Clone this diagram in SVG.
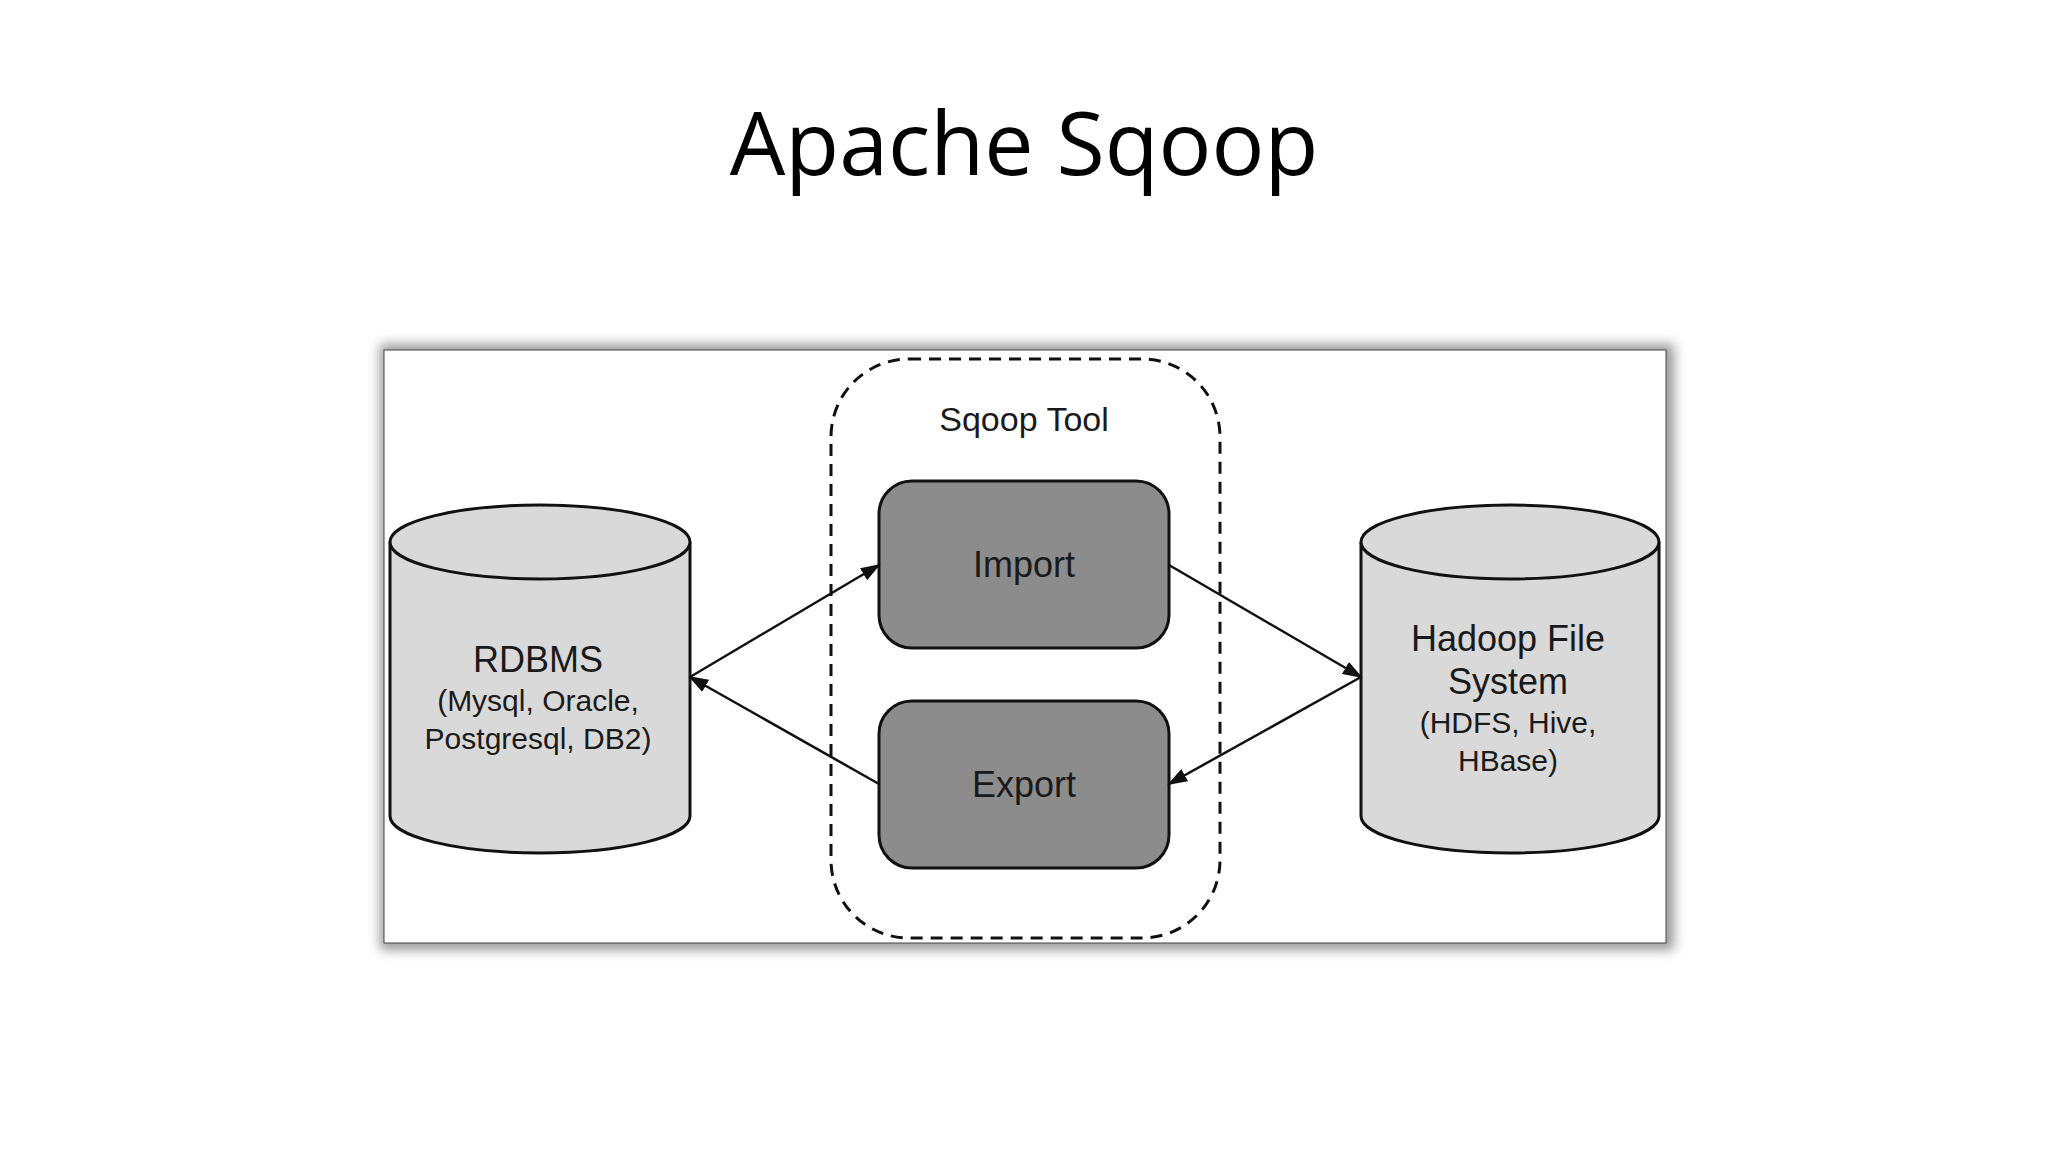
<svg xmlns="http://www.w3.org/2000/svg" width="2048" height="1152" viewBox="0 0 2048 1152">
<defs>
<style>
.t{font-family:"Liberation Sans",Arial,sans-serif;fill:#1a1a1a;text-anchor:middle}
.box{fill:#8c8c8c;stroke:#111;stroke-width:3}
.cyl{fill:#d9d9d9;stroke:#111;stroke-width:3}
.c{stroke:#111;stroke-width:2.5;fill:none;marker-end:url(#ah)}
</style>
<marker id="ah" viewBox="0 0 10 10" refX="9" refY="5" markerWidth="20" markerHeight="14" orient="auto" markerUnits="userSpaceOnUse" preserveAspectRatio="none"><path d="M0,0L10,5L0,10z" fill="#111"/></marker>
<filter id="sh" x="-5%" y="-5%" width="110%" height="115%"><feGaussianBlur stdDeviation="6"/></filter>
</defs>
<rect width="2048" height="1152" fill="#fff"/>
<text x="1024" y="175" font-family="Open Sans,Lato,sans-serif" font-size="88" text-anchor="middle" fill="#000">Apache Sqoop</text>
<rect x="380" y="344" width="1294" height="606" fill="#999" filter="url(#sh)"/>
<rect x="384" y="350" width="1282" height="593" fill="#fff" stroke="#444" stroke-width="1"/>
<g id="sqoop-tool">
<rect x="831" y="359" width="389" height="579" rx="78" fill="none" stroke="#111" stroke-width="3" stroke-dasharray="12,8"/>
<text class="t" x="1024" y="431" font-size="34">Sqoop Tool</text>
</g>
<g id="import"><rect class="box" x="879" y="481" width="290" height="167" rx="33"/><text class="t" x="1024" y="577" font-size="36">Import</text></g>
<g id="export"><rect class="box" x="879" y="701" width="290" height="167" rx="33"/><text class="t" x="1024" y="797" font-size="36">Export</text></g>
<g id="rdbms">
<path class="cyl" d="M390,542V816A150,37 0 0 0 690,816V542"/>
<ellipse class="cyl" cx="540" cy="542" rx="150" ry="37"/>
<text class="t" x="538" y="672" font-size="36">RDBMS</text>
<text class="t" x="538" y="711" font-size="30">(Mysql, Oracle,</text>
<text class="t" x="538" y="749" font-size="30">Postgresql, DB2)</text>
</g>
<g id="hdfs">
<path class="cyl" d="M1361,542V816A149,37 0 0 0 1659,816V542"/>
<ellipse class="cyl" cx="1510" cy="542" rx="149" ry="37"/>
<text class="t" x="1508" y="651" font-size="36">Hadoop File</text>
<text class="t" x="1508" y="694" font-size="36">System</text>
<text class="t" x="1508" y="733" font-size="30">(HDFS, Hive,</text>
<text class="t" x="1508" y="771" font-size="30">HBase)</text>
</g>
<g id="connectors">
<line class="c" x1="690" y1="677" x2="879" y2="565"/>
<line class="c" x1="879" y1="784" x2="690" y2="677"/>
<line class="c" x1="1169" y1="565" x2="1361" y2="677"/>
<line class="c" x1="1361" y1="677" x2="1169" y2="784"/>
</g>
</svg>
